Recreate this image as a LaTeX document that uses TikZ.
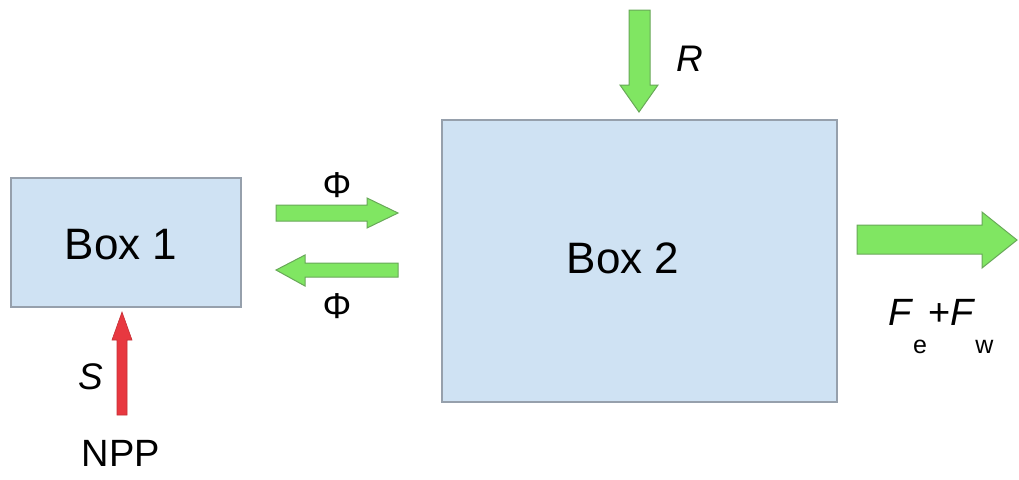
\documentclass[tikz,border=0pt]{standalone}
\usepackage{fontspec}
\setmainfont{Liberation Sans}
\definecolor{boxfill}{RGB}{207,226,243}
\definecolor{boxline}{RGB}{150,160,172}
\definecolor{greenfill}{RGB}{128,230,98}
\definecolor{greenline}{RGB}{104,168,88}
\definecolor{redfill}{RGB}{232,56,64}
\begin{document}
\begin{tikzpicture}[x=1pt,y=-1pt,
  box/.style={draw=boxline, fill=boxfill, line width=1.6pt, inner sep=0pt},
  flow/.style={draw=greenline, fill=greenfill, line width=1pt, line join=miter},
  source/.style={fill=redfill, draw=redfill!85!black, line width=0.6pt},
  big/.style={font=\fontsize{44}{48}\selectfont, inner sep=0pt},
  lbl/.style={font=\fontsize{36}{40}\selectfont, inner sep=0pt},
  ilbl/.style={font=\fontsize{37}{40}\selectfont\itshape, inner sep=0pt}]
\useasboundingbox (0,0) rectangle (1019,479);
\fill[white] (0,0) rectangle (1019,479);

% the two boxes
\node[box, minimum width=230pt, minimum height=129pt, anchor=north west] (b1) at (10,177) {};
\node[big] (b1text) at (121,245) {Box 1};
\node[box, minimum width=395pt, minimum height=282pt, anchor=north west] (b2) at (441,119) {};
\node[big] (b2text) at (623,258) {Box 2};

% inflow R into box 2
\filldraw[flow] (629,10) -- (650,10) -- (650,85) -- (658,85) -- (639,112)
  -- (620,85) -- (629,85) -- cycle;
\node[ilbl] (rlbl) at (690,59) {R};

% exchange between the boxes
\filldraw[flow] (276,205) -- (367,205) -- (367,198) -- (398,213)
  -- (367,228) -- (367,221) -- (276,221) -- cycle;
\node[lbl] (phiup) at (337,185) {Φ};
\filldraw[flow] (398,263) -- (305,263) -- (305,255) -- (276,270)
  -- (305,286) -- (305,277) -- (398,277) -- cycle;
\node[lbl] (phidown) at (337,306) {Φ};

% outflow from box 2
\filldraw[flow] (857,225) -- (982,225) -- (982,212) -- (1017,240)
  -- (982,268) -- (982,254) -- (857,254) -- cycle;
\node[anchor=base west, inner sep=0pt, font=\fontsize{38}{40}\selectfont] (flbl) at (888,325)
  {\textit{F}\raisebox{-28pt}{\fontsize{25}{28}\selectfont e}\hspace{1pt}+\textit{F}\raisebox{-28pt}{\fontsize{25}{28}\selectfont w}};

% source into box 1
\filldraw[source] (117,415) -- (127,415) -- (127,340) -- (132,340) -- (122,312)
  -- (112,340) -- (117,340) -- cycle;
\node[ilbl] (slbl) at (91,377) {S};
\node[lbl, font=\fontsize{38}{40}\selectfont] (npp) at (121,453) {NPP};
\end{tikzpicture}
\end{document}
